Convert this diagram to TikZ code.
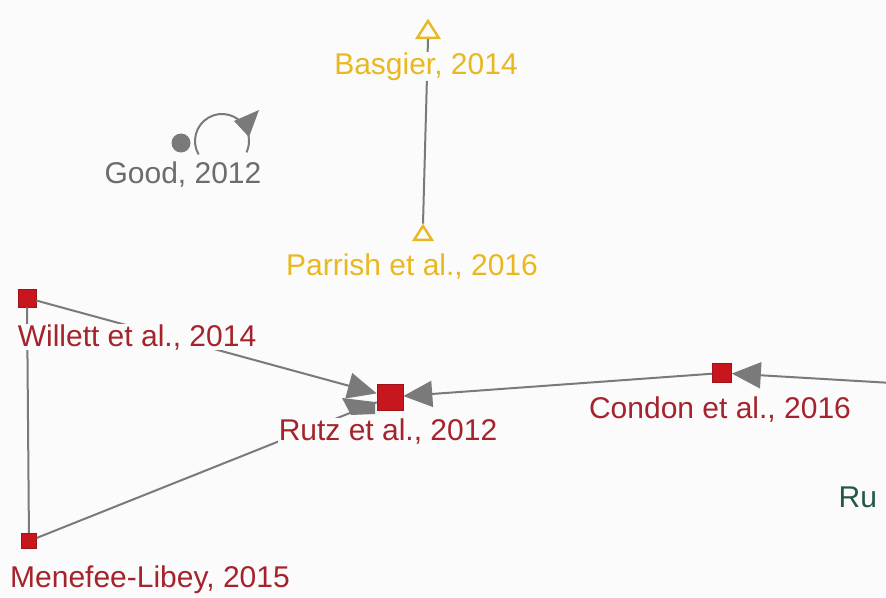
\documentclass[tikz,border=0pt]{standalone}
\usepackage{fontspec}
\setmainfont{Liberation Sans}
\usetikzlibrary{arrows.meta,shapes.geometric}
\definecolor{bg}{HTML}{FBFBFB}
\definecolor{edgegray}{HTML}{7A7A7A}
\definecolor{redsq}{HTML}{C8161F}
\definecolor{redtxt}{HTML}{A5232C}
\definecolor{yel}{HTML}{E9B820}
\definecolor{graytxt}{HTML}{6C6C6C}
\definecolor{greentxt}{HTML}{235747}
\tikzset{
  redbox/.style={draw=redsq!80!black, line width=0.6pt, fill=redsq, minimum size=#1, inner sep=0pt},
  tribox/.style={draw=yel, line width=2.4pt, isosceles triangle, isosceles triangle apex angle=65, shape border rotate=90, minimum height=#1, inner sep=0pt},
  lbl/.style={font=\fontsize{30}{34}\selectfont, anchor=base, fill=bg, inner sep=0.5pt},
  conn/.style={draw=edgegray, line width=2pt},
  arr/.style={conn, -{Triangle[length=29pt,width=26pt]}},
}
\begin{document}
\begin{tikzpicture}[x=1pt,y=-1pt]
\fill[bg] (0,0) rectangle (886,597);
\useasboundingbox (0,0) rectangle (886,597);
% nodes
\node[redbox=18pt] (willett) at (27,298) {};
\node[redbox=15pt] (menefee) at (29,541) {};
\node[redbox=26pt] (rutz) at (390,397) {};
\node[redbox=19pt] (condon) at (722,373) {};
\node[tribox=17pt] (basgier) at (428,32) {};
\node[tribox=14pt] (parrish) at (423,235) {};
\fill[edgegray] (181,143) circle (9.5) node (good) {};
\coordinate (offR) at (892,383);
% connectors
\draw[conn] (basgier.south) -- (parrish.apex);
\draw[conn] (willett) -- (menefee);
\draw[conn] (menefee) -- (rutz);
\draw[arr] (willett) -- (rutz);
\draw[arr] (condon) -- (rutz);
\draw[arr] (offR) -- (condon);
% second arrow shape beneath Rutz arrow
\fill[edgegray] (342,398) -- (375,402) -- (375,414) -- (351,415) -- cycle;
% self loop on Good
\draw[edgegray, line width=2pt] (222,141) ++(150:27) arc[start angle=150, end angle=385, radius=27];
\fill[edgegray] (234,121) -- (259,110) -- (249,137) -- cycle;
% labels
\node[lbl, text=graytxt] (goodlbl) at (183,183) {Good, 2012};
\node[lbl, text=yel] (basgierlbl) at (426,74) {Basgier, 2014};
\node[lbl, text=yel] (parrishlbl) at (412,275) {Parrish et al., 2016};
\node[lbl, text=redtxt] (willettlbl) at (137,346) {Willett et al., 2014};
\node[lbl, text=redtxt] (rutzlbl) at (388,440) {Rutz et al., 2012};
\node[lbl, text=redtxt] (condonlbl) at (720,418) {Condon et al., 2016};
\node[lbl, text=redtxt] (menefeelbl) at (150,587) {Menefee-Libey, 2015};
\node[lbl, text=greentxt, anchor=base west] (rulbl) at (838,507) {Ru};
\end{tikzpicture}
\end{document}
